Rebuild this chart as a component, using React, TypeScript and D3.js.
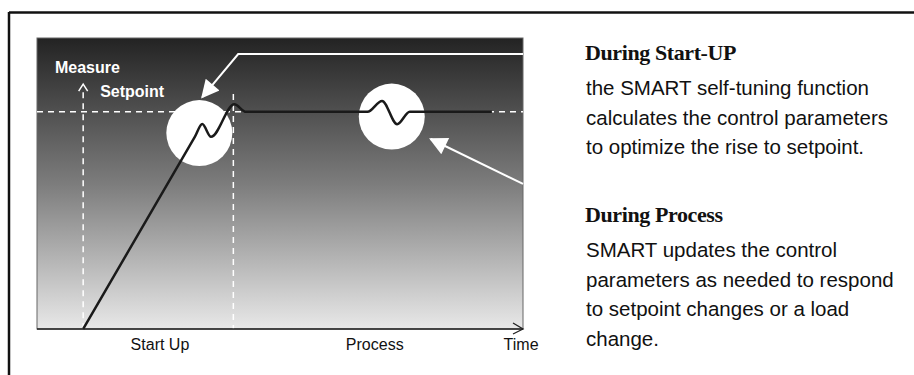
import React from 'react';
import * as d3 from 'd3';

// chart values (time units 0-100, measure where setpoint = 100)
const timeDomain = [0, 100];
const measureDomain = [0, 134];
const setpoint = 100;

const measureTime = [9.5, 32.5, 34, 35.8, 40.6, 43, 68, 71, 74.1, 76.7, 93.6];
const measureValue = [0, 88.6, 94.4, 88.5, 103.5, 100, 100, 105, 94.3, 100, 100];

const phaseBounds = [9.5, 40.4];
const phaseTops = [109, 108.2];

const axisLabels = ['Start Up', 'Process', 'Time'];
const axisLabelTime = [25.3, 69.5, 99.6];

const focusTime = [33.4, 73];
const focusValue = [90.2, 97.8];

const calloutA = [[100, 126.6], [41.4, 126.6], [34, 106.8]];
const calloutB = [[100, 66.8], [81, 87.5]];

const notes = [
  { title: 'During Start-UP', lines: ['the SMART self-tuning function', 'calculates the control parameters', 'to optimize the rise to setpoint.'] },
  { title: 'During Process', lines: ['SMART updates the control', 'parameters as needed to respond', 'to setpoint changes or a load', 'change.'] },
];

const W = 914;
const H = 375;

export default function App() {
  const left = 37, right = 523, top = 38, bottom = 329;
  const x = d3.scaleLinear().domain(timeDomain).range([left, right]);
  const y = d3.scaleLinear().domain(measureDomain).range([bottom, top]);

  const pts = measureTime.map((t, i) => [t, measureValue[i]] as [number, number]);
  const line = d3.line<[number, number]>()
    .x(d => x(d[0]))
    .y(d => y(d[1]))
    .curve(d3.curveMonotoneX);
  const straight = d3.line<number[]>().x(d => x(d[0])).y(d => y(d[1]));

  const sans = 'Liberation Sans, Arial, sans-serif';
  const serif = 'Liberation Serif, Times New Roman, serif';

  return (
    <svg width={W} height={H} style={{ position: 'absolute', left: 0, top: 0, background: '#fff' }}>
      <defs>
        <linearGradient id="bg" x1="0" y1="0" x2="0" y2="1">
          <stop offset="0" stopColor="#232323" />
          <stop offset="0.5" stopColor="#7c7c7c" />
          <stop offset="1" stopColor="#e8e8e8" />
        </linearGradient>
        <marker id="head" viewBox="0 -5 10 10" refX="9" refY="0"
          markerUnits="userSpaceOnUse" markerWidth="22" markerHeight="18" orient="auto">
          <path d="M0,-5L10,0L0,5Z" fill="#fff" />
        </marker>
      </defs>

      {/* outer frame */}
      <line x1={9} y1={12.5} x2={W} y2={12.5} stroke="#111" strokeWidth={2.5} />
      <line x1={9} y1={12} x2={9} y2={H} stroke="#111" strokeWidth={2.5} />

      {/* plot panel */}
      <rect x={left} y={top} width={right - left} height={bottom - top} fill="url(#bg)" stroke="#666" strokeWidth={1} />

      {/* setpoint */}
      <line x1={x(timeDomain[0])} x2={x(timeDomain[1])} y1={y(setpoint)} y2={y(setpoint)}
        stroke="#fff" strokeWidth={1.5} strokeDasharray="6,5" />

      {/* phase boundaries */}
      {phaseBounds.map((t, i) => (
        <line key={i} x1={x(t)} x2={x(t)} y1={y(phaseTops[i])} y2={bottom}
          stroke="#fff" strokeWidth={1.5} strokeDasharray="6,5" />
      ))}
      <path d={`M${x(phaseBounds[0]) - 4.5},${y(109.5)}L${x(phaseBounds[0])},${y(112.8)}L${x(phaseBounds[0]) + 4.5},${y(109.5)}`}
        fill="none" stroke="#fff" strokeWidth={1.5} />

      {/* highlight discs */}
      {focusTime.map((t, i) => (
        <circle key={i} cx={x(t)} cy={y(focusValue[i])} r={33} fill="#fff" />
      ))}

      {/* measure */}
      <path d={line(pts) ?? ''} fill="none" stroke="#1a1a1a" strokeWidth={2.5} strokeLinejoin="round" />

      {/* callouts */}
      <path d={straight(calloutA) ?? ''} fill="none" stroke="#fff" strokeWidth={2} markerEnd="url(#head)" />
      <path d={straight(calloutB) ?? ''} fill="none" stroke="#fff" strokeWidth={2} markerEnd="url(#head)" />

      {/* labels inside panel */}
      <text x={x(3.7)} y={y(117.9)} fill="#fff" fontFamily={sans} fontWeight="bold" fontSize={16}>Measure</text>
      <text x={x(13)} y={y(106.8)} fill="#fff" fontFamily={sans} fontWeight="bold" fontSize={16}>Setpoint</text>

      {/* time axis */}
      <line x1={left} x2={right} y1={bottom} y2={bottom} stroke="#222" strokeWidth={1.5} />
      <path d={`M${right - 10},${bottom - 6}L${right},${bottom}L${right - 10},${bottom + 5}`} fill="none" stroke="#222" strokeWidth={1.3} />
      {axisLabels.map((s, i) => (
        <text key={s} x={x(axisLabelTime[i])} y={350} textAnchor="middle" fill="#111"
          fontFamily={sans} fontSize={16}>{s}</text>
      ))}

      {/* notes */}
      {notes.map((n, i) => {
        const y0 = i === 0 ? 60 : 222;
        return (
          <g key={n.title}>
            <text x={585} y={y0} fontFamily={serif} fontWeight="bold" fontSize={22} fill="#111" letterSpacing={-0.4}>{n.title}</text>
            {n.lines.map((l, j) => (
              <text key={j} x={586} y={y0 + 35 + j * 29.5} fontFamily={sans} fontSize={20.5} fill="#111">{l}</text>
            ))}
          </g>
        );
      })}
    </svg>
  );
}
